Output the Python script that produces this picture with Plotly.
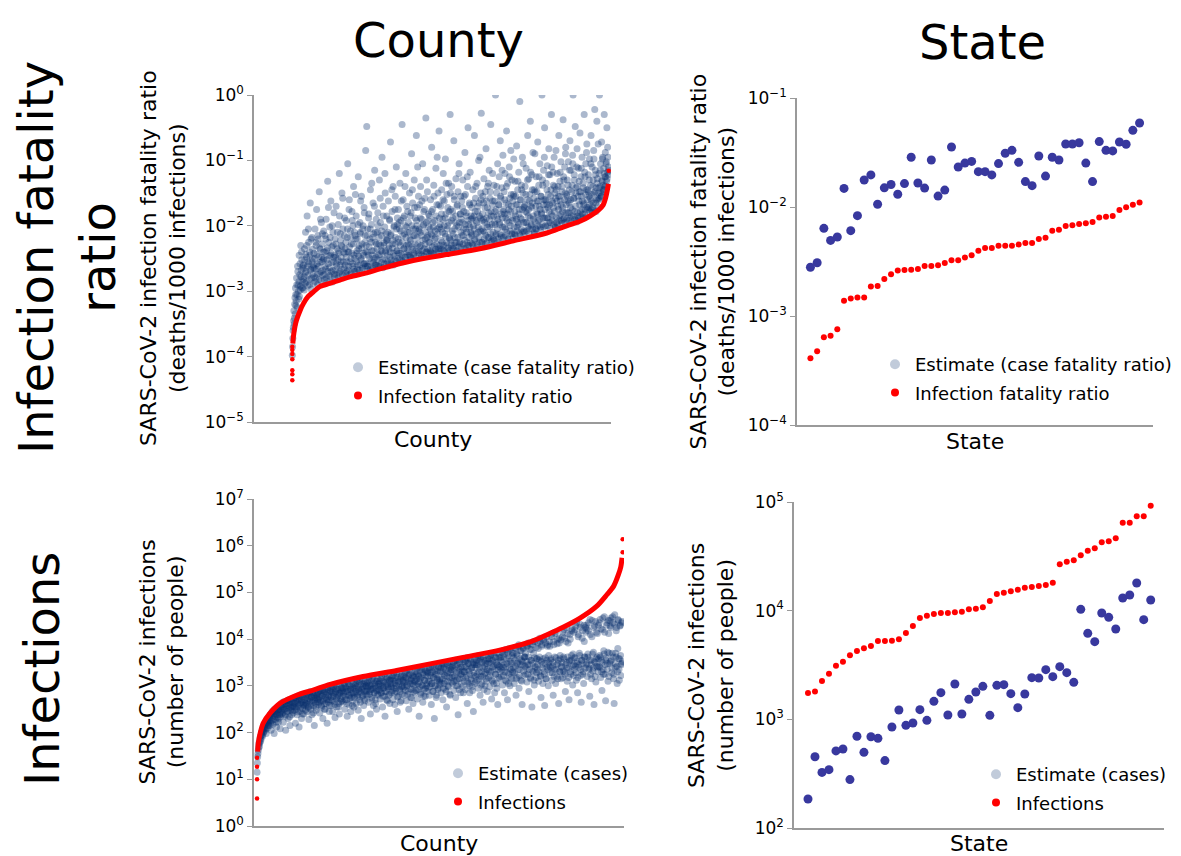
import numpy as np
import plotly.graph_objects as go

FONT = "DejaVu Sans"

# ---------------- State data (50 states, sorted) ----------------
state_ifr = [4.09e-4, 4.74e-4, 6.37e-4, 6.6e-4, 7.55e-4, 1.38e-3, 1.45e-3, 1.48e-3, 1.48e-3, 1.86e-3,
             1.88e-3, 2.18e-3, 2.41e-3, 2.62e-3, 2.64e-3, 2.66e-3, 2.70e-3, 2.88e-3, 2.88e-3, 2.92e-3,
             3.06e-3, 3.24e-3, 3.24e-3, 3.45e-3, 3.60e-3, 3.97e-3, 4.21e-3, 4.21e-3, 4.42e-3, 4.42e-3,
             4.42e-3, 4.54e-3, 4.67e-3, 4.67e-3, 5.08e-3, 5.23e-3, 6.07e-3, 6.20e-3, 6.70e-3, 6.79e-3,
             6.98e-3, 7.08e-3, 7.28e-3, 8.03e-3, 8.14e-3, 8.26e-3, 9.37e-3, 9.93e-3, 1.05e-2, 1.10e-2]
state_cfr = [2.80e-3, 3.08e-3, 6.37e-3, 4.94e-3, 5.31e-3, 1.48e-2, 6.07e-3, 8.33e-3, 1.77e-2, 1.97e-2,
             1.06e-2, 1.50e-2, 1.61e-2, 1.31e-2, 1.64e-2, 2.86e-2, 1.66e-2, 1.49e-2, 2.70e-2, 1.26e-2,
             1.43e-2, 3.55e-2, 2.33e-2, 2.53e-2, 2.62e-2, 2.11e-2, 2.11e-2, 1.97e-2, 2.50e-2, 3.11e-2,
             3.31e-2, 2.57e-2, 1.71e-2, 1.57e-2, 2.94e-2, 1.92e-2, 2.86e-2, 2.70e-2, 3.78e-2, 3.78e-2,
             3.89e-2, 2.53e-2, 1.71e-2, 3.98e-2, 3.31e-2, 3.27e-2, 3.95e-2, 3.76e-2, 5.05e-2, 5.90e-2]
state_infections = [1746, 1799, 2254, 2630, 3119, 3394, 3881, 4256, 4498, 4732,
                    5259, 5259, 5294, 5448, 6226, 7226, 8562, 8990, 9311, 9520,
                    9520, 9660, 9795, 10280, 10430, 10740, 12280, 14230, 14650, 15070,
                    15610, 16290, 16520, 16870, 17220, 18110, 26690, 28250, 29040, 32290,
                    35650, 37480, 42560, 43450, 46310, 64540, 64540, 73830, 73830, 92520]
state_cases = [185, 453, 325, 344, 512, 533, 279, 698, 497, 692,
               668, 417, 850, 1219, 881, 925, 1227, 979, 1465, 1760,
               1096, 2113, 1120, 1527, 1785, 2012, 1089, 2055, 2084, 1723,
               1280, 1711, 2417, 2400, 2864, 2470, 3053, 2687, 2190, 10280,
               6184, 5186, 9520, 8686, 6780, 13090, 13940, 17970, 8265, 12530]

# ---------------- County data: sample of counties ordered by IFR / infection rank (log10 values) ----------------
# two interleaved halves of the sample (even and odd ranks)
county_cfr_log10_even = [
    -3.98, -3.72, -3.55, -3.30, -3.41, -3.10, -2.95, -3.22, -2.80, -3.05, -2.62, -2.90, -3.12, -2.45, -2.75, -2.98, -2.30, -2.68, -2.52, -2.85,
    -2.95, -2.60, -2.78, -2.35, -2.88, -2.10, -2.70, -2.48, -1.85, -2.92, -2.55, -2.25, -2.82, -2.40, -1.65, -2.66, -2.97, -2.18, -2.50, -2.74,
    -2.88, -2.42, -2.65, -2.05, -2.80, -2.30, -1.75, -2.58, -2.90, -2.20, -2.47, -1.48, -2.72, -2.36, -2.84, -1.95, -2.55, -2.12, -2.68, -2.40,
    -2.50, -2.82, -2.15, -2.66, -1.90, -2.38, -2.85, -1.32, -2.58, -2.25, -2.76, -2.02, -2.45, -1.62, -2.70, -2.32, -2.86, -2.10, -2.55, -1.80,
    -2.78, -2.20, -2.48, -1.70, -2.62, -2.35, -2.80, -1.98, -2.42, -1.20, -2.70, -2.12, -2.55, -2.30, -1.50, -2.75, -2.05, -2.40, -2.65, -1.88,
    -2.35, -2.72, -1.92, -2.55, -2.18, -1.05, -2.68, -2.40, -1.60, -2.75, -2.08, -2.50, -2.28, -1.78, -2.62, -2.00, -1.40, -2.45, -2.70, -2.15,
    -2.70, -1.85, -2.42, -2.20, -2.60, -1.25, -2.35, -2.68, -1.95, -2.10, -2.52, -1.55, -2.28, -2.65, -2.00, -2.45, -1.72, -2.58, -2.15, -0.85,
    -2.30, -0.48, -2.62, -2.05, -2.45, -1.82, -2.68, -2.20, -1.45, -2.55, -1.98, -2.38, -2.65, -1.65, -2.12, -2.50, -1.15, -2.25, -2.60, -1.90,
    -2.60, -2.10, -1.80, -2.45, -2.28, -1.30, -2.62, -1.95, -2.38, -2.15, -0.95, -2.52, -1.70, -2.30, -2.58, -2.02, -1.50, -2.40, -2.22, -1.85,
    -2.20, -2.55, -1.62, -2.35, -1.90, -2.48, -0.72, -2.12, -2.58, -1.78, -2.28, -1.40, -2.42, -2.00, -2.52, -1.55, -2.18, -1.10, -2.38, -1.88,
    -2.50, -1.75, -2.25, -2.05, -1.35, -2.42, -1.92, -2.52, -0.45, -2.15, -1.60, -2.35, -1.85, -2.48, -2.00, -1.20, -2.30, -1.70, -2.10, -2.45,
    -1.95, -2.40, -1.50, -2.20, -2.48, -1.80, -0.90, -2.32, -1.65, -2.05, -2.45, -1.30, -2.15, -1.88, -2.38, -0.62, -2.00, -1.72, -2.28, -1.55,
    -2.42, -1.68, -2.10, -1.40, -2.30, -1.90, -2.45, -1.05, -2.00, -1.78, -2.35, -1.58, -2.20, -0.35, -1.95, -2.40, -1.48, -2.15, -1.82, -2.25,
    -1.85, -2.38, -1.60, -2.12, -0.80, -2.42, -1.75, -2.02, -1.38, -2.30, -1.92, -2.18, -1.12, -2.40, -1.68, -2.05, -1.50, -2.35, -0.55, -1.88,
    -2.35, -1.70, -2.05, -1.45, -2.25, -1.90, -1.20, -2.38, -1.62, -2.12, -0.98, -1.82, -2.30, -1.52, -2.00, -2.40, -1.35, -1.78, -2.20, -0.30,
    -1.75, -2.30, -1.40, -2.08, -1.88, -2.35, -0.70, -1.60, -2.18, -1.95, -1.28, -2.25, -1.70, -2.38, -1.48, -2.02, -1.05, -2.28, -1.82, -1.55,
    -2.32, -1.62, -1.95, -1.30, -2.15, -1.78, -2.35, -0.88, -1.52, -2.05, -1.85, -2.25, -1.40, -0.50, -1.98, -2.30, -1.68, -1.18, -2.10, -1.90,
    -1.72, -2.28, -1.45, -2.00, -1.85, -0.62, -2.20, -1.58, -1.92, -2.32, -1.35, -1.78, -2.10, -1.00, -1.65, -2.25, -1.88, -1.50, -0.28, -2.05,
    -2.25, -1.55, -1.90, -1.28, -2.10, -1.72, -2.28, -0.82, -1.62, -1.98, -1.40, -2.18, -1.80, -1.15, -2.02, -1.48, -0.45, -1.85, -2.22, -1.68,
    -1.62, -2.20, -1.38, -1.95, -1.78, 0.00, -2.12, -1.50, -1.85, -1.05, -2.25, -1.68, -1.25, -1.98, -0.70, -1.58, -2.15, -1.42, -1.88, -0.92,
    -2.18, -1.48, -1.82, -1.20, -2.05, -1.65, -0.55, -1.92, -1.35, -2.20, -1.75, -1.10, -1.58, -2.00, -0.85, -1.70, -1.30, -2.12, -1.88, -1.52,
    -1.55, -2.12, -1.32, -1.85, -1.68, -0.78, -2.02, -1.45, -1.95, -1.18, -1.75, -0.10, -2.15, -1.60, -1.38, -1.90, -0.95, -1.50, -2.08, -1.72,
    -2.10, -1.40, -1.78, -1.12, -1.95, -1.60, -0.62, -1.85, -1.28, -2.05, -1.52, -0.40, -1.70, -1.98, -1.22, -1.65, -0.88, -1.90, -1.45, -2.12,
    -1.48, -2.05, -1.25, -1.80, -1.62, -0.72, -1.92, -1.38, -1.70, -1.05, -2.02, -1.55, -1.82, 0.00, -1.30, -1.88, -1.15, -1.60, -0.50, -1.75,
    -2.00, -1.35, -1.68, -1.08, -1.88, -1.52, -0.82, -1.78, -1.22, -1.95, -1.45, -0.30, -1.62, -1.85, -1.18, -1.72, -0.95, -1.40, -2.02, -1.58,
    -1.45, -1.95, -1.20, -1.70, -1.55, -0.62, -1.85, -1.32, -1.62, -1.02, -1.92, -1.40, -1.78, -0.38, -1.25, -1.88, -1.10, -1.50, -0.80, -1.68,
    -1.90, -1.30, -1.62, -1.02, -1.80, -1.45, -0.70, -1.72, -1.15, -1.85, -1.38, -0.92, 0.00, -1.58, -1.22, -1.78, -0.48, -1.50, -1.92, -1.10,
    -1.40, -1.85, -1.12, -1.62, -1.48, -0.58, -1.78, -1.25, -1.55, -0.95, -1.82, -1.35, -1.68, -0.30, -1.18, -1.75, -1.05, -1.45, -0.75, -1.60,
    -1.75, -1.22, -1.55, -0.98, -1.68, -1.38, -0.62, -1.62, -1.10, -1.72, -1.30, -0.85, -1.50, -0.22, -1.15, -1.65, -1.42, -0.40, -1.28, -1.58,
    -1.50, -1.20, 0.00, -1.40, -1.05, -1.55, -0.72, -1.32, -0.95, -1.45, -1.12, -0.30, -1.25, -0.88, -1.38, -1.02, -0.50, -1.18, -0.95, -1.10,
]
county_cfr_log10_odd = [
    -3.85, -3.60, -3.45, -3.50, -3.20, -3.35, -3.05, -3.15, -2.90, -3.25, -2.70, -3.00, -2.85, -3.08, -2.58, -2.92, -2.78, -2.40, -2.95, -2.62,
    -2.82, -2.65, -2.98, -2.52, -2.72, -2.44, -2.86, -2.30, -2.62, -2.76, -2.05, -2.58, -2.90, -2.45, -2.68, -2.20, -2.80, -2.55, -2.36, -2.64,
    -2.60, -2.78, -2.50, -2.85, -2.25, -2.66, -2.44, -2.74, -2.15, -2.62, -2.82, -2.34, -2.56, -1.90, -2.70, -2.48, -2.28, -2.76, -2.52, -2.08,
    -2.75, -2.40, -2.62, -2.20, -2.80, -2.52, -2.34, -2.70, -1.72, -2.46, -2.64, -2.18, -2.78, -2.42, -2.56, -2.00, -2.68, -2.30, -2.48, -2.74,
    -2.45, -2.68, -2.28, -2.58, -2.75, -2.10, -2.52, -2.38, -2.72, -1.85, -2.60, -2.22, -2.48, -2.66, -2.32, -1.58, -2.55, -2.76, -2.15, -2.42,
    -2.60, -2.25, -2.48, -2.70, -2.05, -2.40, -2.62, -1.75, -2.32, -2.55, -2.18, -2.72, -2.42, -1.92, -2.58, -2.28, -2.66, -2.10, -2.50, -1.52,
    -2.20, -2.55, -2.38, -2.66, -1.98, -2.46, -2.30, -2.60, -2.12, -1.62, -2.50, -2.34, -2.68, -2.05, -2.42, -2.58, -1.80, -2.25, -2.62, -2.40,
    -2.58, -2.15, -2.40, -2.62, -1.88, -2.32, -2.50, -2.05, -2.66, -2.25, -1.35, -2.45, -2.18, -2.56, -2.38, -1.70, -2.60, -2.10, -2.48, -2.28,
    -2.35, -2.52, -2.00, -2.62, -2.18, -2.44, -1.58, -2.30, -2.56, -2.08, -2.40, -2.64, -1.85, -2.26, -2.50, -1.20, -2.38, -2.12, -2.58, -2.22,
    -2.45, -2.10, -2.58, -2.30, -1.92, -2.40, -2.15, -2.52, -1.45, -2.34, -2.22, -2.60, -2.02, -2.46, -1.75, -2.28, -2.55, -2.05, -2.38, -1.98,
    -2.20, -2.42, -1.95, -2.52, -2.30, -2.08, -1.62, -2.45, -2.25, -2.55, -1.88, -2.35, -2.12, -1.40, -2.48, -2.18, -2.02, -2.40, -1.78, -2.28,
    -2.30, -2.10, -2.45, -1.85, -2.22, -2.50, -2.00, -1.45, -2.36, -2.15, -2.42, -1.72, -2.28, -2.05, -2.48, -1.92, -2.18, -1.10, -2.38, -2.08,
    -2.05, -2.32, -1.88, -2.44, -2.15, -1.62, -2.38, -2.22, -1.98, -2.46, -1.75, -2.28, -2.10, -2.40, -1.30, -2.18, -2.35, -1.92, -2.02, -2.42,
    -2.25, -2.05, -2.40, -1.78, -2.15, -2.32, -1.95, -2.42, -1.55, -2.20, -2.08, -2.36, -1.85, -2.28, -0.95, -2.12, -2.38, -1.68, -2.02, -2.30,
    -1.98, -2.22, -1.82, -2.36, -2.10, -1.60, -2.30, -2.00, -2.40, -1.88, -2.16, -1.35, -2.26, -2.05, -1.72, -2.34, -1.95, -2.18, -2.38, -1.50,
    -2.22, -1.92, -2.34, -1.78, -2.12, -2.30, -1.55, -2.05, -2.26, -1.85, -2.38, -2.00, -1.68, -2.18, -2.32, -1.20, -1.95, -2.25, -1.82, -2.10,
    -1.90, -2.15, -1.72, -2.28, -2.05, -1.55, -2.22, -1.98, -2.34, -1.80, -2.10, -1.25, -2.30, -1.92, -2.18, -1.65, -2.02, -2.26, -1.85, -2.12,
    -2.15, -1.88, -2.30, -1.65, -2.05, -2.22, -1.78, -1.40, -2.12, -1.95, -2.28, -1.70, -2.02, -2.18, -1.85, -0.95, -2.08, -1.60, -2.25, -1.92,
    -1.82, -2.08, -1.65, -2.20, -1.95, -1.48, -2.15, -1.88, -2.26, -1.72, -2.02, -1.35, -2.18, -1.90, -1.58, -2.12, -1.78, -2.24, -1.98, -1.20,
    -2.10, -1.85, -2.22, -1.62, -1.98, -2.15, -1.75, -1.40, -2.05, -1.90, -2.20, -1.68, -1.95, -2.12, -1.55, -1.82, -2.18, -1.15, -2.02, -1.78,
    -1.75, -2.02, -1.60, -2.15, -1.88, -1.40, -2.10, -1.82, -2.20, -1.68, -1.95, -1.25, -2.08, -1.78, -1.52, -2.12, -1.92, -1.62, -2.18, -0.98,
    -2.02, -1.78, -2.14, -1.55, -1.90, -2.08, -1.68, -1.32, -1.98, -1.82, -2.12, -1.60, -1.88, -2.05, -1.45, -1.75, -2.10, -1.05, -1.95, -1.70,
    -1.68, -1.95, -1.52, -2.08, -1.80, -1.30, -2.02, -1.75, -2.12, -1.62, -1.88, -1.18, -2.00, -1.72, -1.45, -2.05, -1.85, -1.58, -2.10, -0.90,
    -1.95, -1.70, -2.05, -1.48, -1.82, -2.00, -1.62, -1.25, -1.90, -1.75, -2.06, -1.55, -1.80, -1.98, -1.38, -1.68, -2.02, -0.95, -1.88, -1.60,
    -1.62, -1.88, -1.45, -2.00, -1.72, -1.22, -1.95, -1.68, -2.04, -1.55, -1.82, -1.10, -1.92, -1.65, -1.38, -1.98, -1.78, -1.50, -2.02, -0.85,
    -1.88, -1.62, -1.98, -1.40, -1.75, -1.92, -1.55, -1.18, -1.82, -1.68, -1.96, -1.48, -1.72, -1.90, -1.30, -1.60, -1.95, -0.90, -1.80, -1.52,
    -1.55, -1.80, -1.38, -1.92, -1.65, -1.15, -1.88, -1.60, -1.95, -1.48, -1.75, -1.05, -1.85, -1.58, -1.30, -1.90, -1.70, -1.42, -1.94, -0.82,
    -1.80, -1.55, -1.88, -1.32, -1.68, -1.85, -1.48, -1.12, -1.75, -1.62, -1.88, -1.42, -1.65, -1.82, -1.25, -1.52, -1.86, -0.88, -1.72, -1.45,
    -1.48, -1.72, -1.30, -1.78, -1.58, -1.05, -1.75, -1.52, -1.80, -1.40, -1.65, -0.98, -1.76, -1.48, -1.22, -1.78, -1.60, -1.35, -1.70, -0.75,
    -1.60, -1.42, -1.58, -1.15, -1.50, -1.55, -1.30, -0.98, -1.48, -1.38, -1.45, -1.20, -1.40, -1.25, -1.05, -1.32, -1.28, -0.80, -1.22, -1.15,
]
county_ifr_curve_idx = [2, 4, 10, 16, 30, 42, 60, 80, 104, 142, 180, 218, 282, 332, 458, 584, 710, 838, 964, 1026,
                        1090, 1128, 1160, 1178, 1188, 1194, 1198]
county_ifr_curve_log10 = [-3.80, -3.70, -3.54, -3.44, -3.29, -3.19, -3.08, -3.01, -2.93, -2.88, -2.83, -2.78,
                          -2.72, -2.66, -2.53, -2.44, -2.35, -2.23, -2.11, -2.02, -1.93, -1.85, -1.76, -1.68,
                          -1.56, -1.45, -1.36]
county_ifr_outlier_idx = [0, 0, 0, 0, 0, 0, 0, 1199]
county_ifr_outlier_log10 = [-4.36, -4.27, -4.21, -4.04, -3.96, -3.90, -3.85, -1.16]

county_cases_log10_even = [
    1.15, 1.48, 1.62, 1.75, 1.70, 1.88, 1.82, 1.95, 2.02, 1.92, 2.08, 2.00, 2.12, 2.05, 2.18, 1.98, 2.22, 2.10, 2.25, 2.15,
    2.30, 2.15, 2.38, 2.05, 2.25, 2.42, 2.18, 2.35, 1.98, 2.45, 2.28, 2.40, 2.12, 2.48, 2.32, 2.22, 2.50, 2.38, 2.08, 2.45,
    2.55, 2.40, 2.65, 2.22, 2.50, 2.60, 2.35, 2.05, 2.58, 2.45, 2.68, 2.30, 2.52, 2.62, 2.15, 2.48, 2.66, 2.38, 2.56, 2.42,
    2.70, 2.48, 2.62, 2.20, 2.75, 2.55, 2.38, 2.68, 2.58, 2.12, 2.72, 2.45, 2.64, 2.30, 2.78, 2.52, 2.60, 2.40, 2.70, 2.58,
    2.62, 2.80, 2.45, 2.72, 2.55, 2.28, 2.85, 2.66, 2.50, 2.76, 2.38, 2.68, 2.82, 2.58, 2.15, 2.74, 2.62, 2.48, 2.80, 2.70,
    2.85, 2.60, 2.75, 2.42, 2.90, 2.68, 2.55, 2.80, 2.30, 2.72, 2.88, 2.62, 2.50, 2.82, 2.70, 2.20, 2.92, 2.65, 2.78, 2.58,
    2.70, 2.95, 2.58, 2.85, 2.45, 2.78, 2.98, 2.66, 2.32, 2.88, 2.75, 2.55, 2.92, 2.80, 2.62, 2.40, 2.85, 2.72, 2.96, 2.68,
    2.90, 2.65, 2.82, 3.02, 2.50, 2.78, 2.95, 2.70, 2.35, 2.88, 3.05, 2.60, 2.80, 2.92, 2.45, 2.75, 2.98, 2.68, 2.85, 2.55,
    2.75, 3.00, 2.88, 2.62, 3.08, 2.80, 2.48, 2.95, 2.70, 3.10, 2.85, 2.30, 2.92, 2.78, 3.04, 2.58, 2.88, 2.68, 3.00, 2.82,
    3.05, 2.80, 2.95, 2.65, 3.12, 2.88, 2.40, 3.00, 2.75, 2.92, 3.15, 2.58, 2.85, 3.05, 2.70, 2.95, 2.50, 3.10, 2.82, 2.98,
    2.90, 3.10, 2.72, 3.00, 2.85, 3.18, 2.55, 2.95, 3.08, 2.78, 2.35, 3.02, 2.88, 3.15, 2.68, 2.98, 2.80, 3.12, 2.62, 3.05,
    3.15, 2.85, 3.05, 2.70, 3.22, 2.95, 2.60, 3.10, 2.88, 3.00, 2.45, 3.18, 2.78, 3.08, 2.92, 2.65, 3.20, 2.98, 2.82, 3.12,
    2.95, 3.20, 2.80, 3.08, 3.28, 2.68, 3.00, 3.15, 2.88, 2.50, 3.25, 3.05, 2.75, 3.12, 2.92, 3.22, 2.62, 3.02, 3.18, 2.85,
    3.10, 2.90, 3.30, 2.72, 3.05, 3.22, 2.35, 2.98, 3.15, 2.82, 3.35, 3.02, 2.65, 3.25, 2.92, 3.12, 2.78, 3.32, 3.00, 2.88,
    3.20, 2.95, 3.38, 2.80, 3.10, 3.28, 2.60, 3.05, 3.40, 2.88, 3.18, 2.30, 3.32, 3.00, 2.75, 3.25, 3.12, 2.92, 3.42, 3.08,
    3.02, 3.30, 2.85, 3.45, 3.15, 2.70, 3.38, 3.05, 3.22, 2.92, 3.48, 2.55, 3.28, 3.10, 2.98, 3.42, 3.18, 2.80, 3.35, 3.08,
    3.35, 3.05, 3.50, 2.90, 3.20, 3.42, 2.75, 3.12, 3.55, 3.00, 2.38, 3.30, 3.15, 3.48, 2.85, 3.25, 3.40, 2.98, 3.18, 3.52,
    3.10, 3.40, 2.92, 3.55, 3.22, 2.62, 3.48, 3.05, 3.32, 2.85, 3.58, 3.15, 3.38, 2.98, 3.50, 2.45, 3.28, 3.45, 3.08, 3.20,
    3.45, 3.12, 3.60, 2.95, 3.30, 3.52, 2.80, 3.20, 3.62, 3.05, 3.40, 2.65, 3.55, 3.25, 3.00, 3.48, 3.15, 3.35, 2.88, 3.58,
    3.18, 3.50, 2.98, 3.65, 3.30, 2.72, 3.55, 3.10, 3.42, 3.70, 2.85, 3.25, 3.60, 3.05, 3.45, 2.60, 3.35, 3.62, 3.15, 3.40,
    3.55, 3.20, 3.72, 3.02, 3.40, 3.62, 2.85, 3.30, 3.78, 3.10, 3.48, 2.70, 3.65, 3.25, 3.80, 3.00, 3.52, 3.35, 3.15, 3.70,
    3.28, 3.60, 3.05, 3.82, 3.42, 2.80, 3.68, 3.18, 3.50, 3.85, 2.95, 3.35, 3.75, 3.12, 3.55, 2.60, 3.45, 3.80, 3.22, 3.62,
    3.62, 3.25, 3.85, 3.08, 3.45, 3.92, 2.88, 3.35, 3.78, 3.15, 3.55, 2.55, 3.88, 3.30, 3.70, 3.02, 3.95, 3.40, 3.18, 3.58,
    3.35, 3.92, 3.10, 3.55, 4.02, 3.22, 2.75, 3.85, 3.45, 3.05, 3.98, 3.30, 2.58, 3.60, 3.15, 4.05, 3.40, 3.88, 3.00, 3.50,
    3.95, 3.28, 3.55, 4.10, 3.12, 3.42, 2.80, 3.88, 3.35, 4.15, 3.05, 3.60, 3.20, 4.00, 3.48, 2.62, 3.92, 3.30, 3.58, 3.15,
    3.40, 4.05, 3.18, 3.62, 4.20, 3.30, 2.88, 3.95, 3.50, 3.10, 4.12, 3.38, 2.70, 3.55, 4.00, 3.25, 3.65, 4.22, 3.02, 3.45,
    4.15, 3.35, 3.60, 4.28, 3.12, 3.48, 2.85, 4.05, 3.40, 3.70, 4.32, 3.22, 2.65, 3.55, 4.18, 3.30, 3.05, 3.95, 3.62, 4.25,
    3.45, 4.22, 3.20, 3.68, 4.35, 3.38, 2.78, 4.10, 3.55, 3.15, 4.40, 3.32, 3.72, 2.60, 4.28, 3.50, 3.08, 4.15, 3.62, 3.40,
    4.30, 3.42, 3.65, 4.42, 3.18, 3.55, 2.90, 4.20, 3.35, 3.75, 4.48, 3.25, 2.68, 3.60, 4.35, 3.48, 3.10, 4.12, 3.70, 4.40,
    3.52, 4.45, 3.28, 3.70, 4.35, 3.15, 2.62, 4.52, 3.40, 3.62, 4.25, 3.05, 3.80, 4.40, 3.35, 3.58, 4.30, 3.22, 3.48, 4.38,
]
county_cases_log10_odd = [
    1.35, 1.55, 1.68, 1.80, 1.78, 1.92, 1.86, 2.00, 1.95, 2.06, 2.02, 2.15, 2.10, 2.20, 2.08, 2.24, 2.16, 2.28, 2.20, 2.32,
    2.25, 2.38, 2.20, 2.42, 2.32, 2.46, 2.28, 2.40, 2.50, 2.35, 2.44, 2.22, 2.52, 2.38, 2.48, 2.30, 2.55, 2.42, 2.34, 2.56,
    2.48, 2.60, 2.42, 2.55, 2.66, 2.50, 2.38, 2.62, 2.52, 2.68, 2.45, 2.58, 2.70, 2.34, 2.60, 2.54, 2.72, 2.46, 2.64, 2.56,
    2.62, 2.75, 2.55, 2.68, 2.50, 2.78, 2.64, 2.44, 2.72, 2.60, 2.80, 2.52, 2.70, 2.66, 2.40, 2.76, 2.58, 2.82, 2.65, 2.48,
    2.75, 2.60, 2.84, 2.68, 2.52, 2.80, 2.72, 2.88, 2.58, 2.76, 2.64, 2.85, 2.42, 2.78, 2.70, 2.86, 2.55, 2.74, 2.82, 2.66,
    2.72, 2.88, 2.65, 2.82, 2.94, 2.58, 2.78, 2.90, 2.68, 2.84, 2.50, 2.92, 2.76, 2.62, 2.86, 2.96, 2.70, 2.80, 2.45, 2.90,
    2.88, 2.76, 2.98, 2.68, 2.90, 2.82, 3.02, 2.60, 2.86, 2.94, 2.72, 3.00, 2.78, 2.55, 2.92, 2.84, 3.04, 2.66, 2.88, 2.96,
    2.78, 2.95, 2.86, 3.05, 2.70, 2.98, 2.88, 2.62, 3.08, 2.92, 2.80, 3.00, 2.74, 2.94, 3.10, 2.84, 2.58, 2.96, 3.04, 2.82,
    2.95, 3.05, 2.84, 2.98, 3.12, 2.76, 2.92, 3.08, 2.88, 2.65, 3.02, 2.94, 3.15, 2.80, 2.98, 3.06, 2.72, 3.10, 2.90, 3.00,
    2.88, 3.08, 2.98, 3.18, 2.82, 3.02, 2.92, 3.12, 2.72, 3.05, 2.95, 3.20, 2.85, 3.00, 2.62, 3.10, 2.90, 3.15, 2.80, 3.04,
    3.05, 2.92, 3.15, 2.85, 3.22, 3.00, 2.78, 3.10, 2.96, 3.25, 2.88, 3.08, 2.70, 3.18, 3.02, 2.94, 3.20, 2.82, 3.12, 2.98,
    2.98, 3.20, 2.90, 3.12, 3.28, 2.84, 3.05, 3.18, 2.95, 3.25, 2.76, 3.10, 3.02, 3.30, 2.88, 3.15, 2.68, 3.22, 3.00, 3.08,
    3.12, 2.98, 3.25, 2.90, 3.18, 3.32, 3.02, 2.82, 3.22, 3.08, 3.35, 2.94, 3.15, 2.75, 3.28, 3.05, 3.20, 2.88, 3.10, 3.30,
    3.02, 3.25, 3.15, 3.38, 2.92, 3.20, 3.08, 3.32, 2.85, 3.18, 3.40, 3.00, 3.28, 2.78, 3.12, 3.35, 2.95, 3.22, 3.05, 3.30,
    3.28, 3.10, 3.35, 2.98, 3.22, 3.42, 3.05, 3.30, 2.88, 3.18, 3.45, 3.00, 3.25, 3.38, 2.80, 3.15, 3.32, 2.95, 3.40, 3.12,
    3.15, 3.38, 3.05, 3.30, 3.48, 2.95, 3.25, 3.42, 3.10, 3.35, 2.88, 3.20, 3.45, 3.00, 3.32, 3.50, 2.82, 3.28, 3.40, 3.18,
    3.42, 3.22, 3.50, 3.10, 3.35, 3.55, 3.00, 3.28, 3.45, 3.15, 3.38, 2.92, 3.52, 3.25, 3.40, 3.05, 3.32, 3.56, 2.85, 3.30,
    3.30, 3.52, 3.18, 3.42, 3.60, 3.08, 3.35, 3.48, 3.00, 3.25, 3.55, 3.12, 3.40, 2.90, 3.45, 3.22, 3.58, 3.05, 3.38, 3.50,
    3.55, 3.25, 3.45, 3.65, 3.15, 3.38, 3.58, 3.02, 3.30, 3.50, 3.20, 3.62, 2.92, 3.42, 3.28, 3.55, 3.10, 3.48, 3.35, 3.64,
    3.32, 3.58, 3.22, 3.48, 3.68, 3.12, 3.40, 3.55, 3.05, 3.35, 3.62, 3.25, 3.50, 2.95, 3.45, 3.70, 3.18, 3.42, 3.60, 3.30,
    3.62, 3.35, 3.50, 3.75, 3.22, 3.45, 3.68, 3.12, 3.40, 3.58, 3.28, 3.72, 3.05, 3.52, 3.38, 3.78, 3.18, 3.48, 3.65, 3.30,
    3.40, 3.70, 3.28, 3.55, 3.80, 3.15, 3.48, 3.65, 3.35, 3.88, 3.22, 3.58, 3.45, 3.75, 3.10, 3.52, 3.82, 3.32, 3.62, 3.42,
    3.70, 3.38, 3.52, 3.85, 3.25, 3.62, 3.45, 3.90, 3.18, 3.55, 3.78, 3.32, 3.48, 3.95, 3.12, 3.60, 3.42, 3.82, 3.28, 3.58,
    3.45, 3.80, 3.30, 3.62, 3.95, 3.20, 3.52, 3.88, 3.38, 3.58, 4.00, 3.25, 3.48, 3.92, 3.15, 3.55, 3.85, 3.35, 3.65, 3.42,
    3.85, 3.40, 3.58, 4.05, 3.28, 3.50, 3.95, 3.20, 3.62, 4.12, 3.35, 3.45, 3.90, 3.15, 3.55, 4.02, 3.30, 3.65, 3.98, 3.42,
    3.50, 4.15, 3.32, 3.58, 4.02, 3.25, 3.45, 4.25, 3.38, 3.62, 3.92, 3.18, 3.52, 4.10, 3.30, 3.55, 4.18, 3.42, 3.68, 3.22,
    3.60, 4.20, 3.42, 3.28, 4.35, 3.52, 3.18, 4.10, 3.45, 3.65, 4.25, 3.35, 3.55, 4.02, 3.25, 3.48, 4.30, 3.62, 3.38, 4.15,
    4.30, 3.48, 3.62, 4.18, 3.35, 3.55, 4.42, 3.25, 3.45, 4.05, 3.68, 3.38, 4.25, 3.52, 3.20, 4.38, 3.58, 3.42, 4.12, 3.30,
    3.58, 4.35, 3.40, 3.62, 4.22, 3.30, 3.50, 4.45, 3.25, 3.68, 4.15, 3.45, 3.55, 4.30, 3.35, 3.72, 4.40, 3.20, 3.48, 4.28,
    4.25, 3.55, 3.38, 4.48, 3.62, 3.25, 4.32, 3.48, 3.70, 4.18, 3.42, 3.30, 4.42, 3.58, 3.12, 4.28, 3.65, 3.45, 4.35, 3.52,
]
county_inf_curve_idx = [2, 4, 10, 20, 42, 76, 130, 184, 240, 348, 458, 568, 676, 786, 896, 950, 1006, 1060,
                        1114, 1148, 1170, 1186, 1194, 1198]
county_inf_curve_log10 = [1.59, 1.77, 1.98, 2.20, 2.41, 2.63, 2.80, 2.91, 3.03, 3.20, 3.33, 3.47, 3.61, 3.75,
                          3.94, 4.09, 4.26, 4.45, 4.70, 4.95, 5.13, 5.38, 5.55, 5.74]
county_inf_outlier_idx = [0, 0, 0, 0, 1200, 1200]
county_inf_outlier_log10 = [0.59, 1.00, 1.27, 1.46, 5.86, 6.14]

# ---------------- Tick labels ----------------
ticks_ifr_county = [1e-5, 1e-4, 1e-3, 1e-2, 1e-1, 1e0]
ticktext_ifr_county = ["10<sup>−5</sup>", "10<sup>−4</sup>", "10<sup>−3</sup>", "10<sup>−2</sup>", "10<sup>−1</sup>", "10<sup>0</sup>"]
ticks_ifr_state = [1e-4, 1e-3, 1e-2, 1e-1]
ticktext_ifr_state = ["10<sup>−4</sup>", "10<sup>−3</sup>", "10<sup>−2</sup>", "10<sup>−1</sup>"]
ticks_inf_county = [1e0, 1e1, 1e2, 1e3, 1e4, 1e5, 1e6, 1e7]
ticktext_inf_county = ["10<sup>0</sup>", "10<sup>1</sup>", "10<sup>2</sup>", "10<sup>3</sup>", "10<sup>4</sup>",
                       "10<sup>5</sup>", "10<sup>6</sup>", "10<sup>7</sup>"]
ticks_inf_state = [1e2, 1e3, 1e4, 1e5]
ticktext_inf_state = ["10<sup>2</sup>", "10<sup>3</sup>", "10<sup>4</sup>", "10<sup>5</sup>"]

# ---------------- Styles ----------------
BLUE_CLOUD = "rgba(8,48,107,0.34)"
BLUE_LEGEND = "rgba(8,48,107,0.25)"
STATE_BLUE = "rgb(56,56,158)"
RED = "rgb(255,0,0)"

fig = go.Figure()

def pow10(a):
    return np.power(10.0, np.asarray(a, dtype=float))

def interleave(even, odd):
    return np.ravel(np.column_stack([np.asarray(even, float), np.asarray(odd, float)]))

county_cfr_log10 = interleave(county_cfr_log10_even, county_cfr_log10_odd)
county_cases_log10 = interleave(county_cases_log10_even, county_cases_log10_odd)

# ---- Top-left: county IFR ----
fig.add_trace(go.Scatter(x=np.arange(len(county_cfr_log10)), y=pow10(county_cfr_log10), mode="markers",
                         marker=dict(size=7, color=BLUE_CLOUD, line=dict(width=0)),
                         showlegend=False, hoverinfo="skip", xaxis="x", yaxis="y"))
fig.add_trace(go.Scatter(x=county_ifr_curve_idx, y=pow10(county_ifr_curve_log10), mode="lines",
                         line=dict(color=RED, width=5, shape="spline", smoothing=0.8),
                         showlegend=False, hoverinfo="skip", xaxis="x", yaxis="y"))
fig.add_trace(go.Scatter(x=county_ifr_outlier_idx, y=pow10(county_ifr_outlier_log10), mode="markers",
                         marker=dict(size=4.5, color=RED), showlegend=False, hoverinfo="skip",
                         xaxis="x", yaxis="y"))

# ---- Top-right: state IFR ----
state_idx = np.arange(len(state_ifr))
fig.add_trace(go.Scatter(x=state_idx, y=state_cfr, mode="markers",
                         marker=dict(size=9, color=STATE_BLUE), showlegend=False, hoverinfo="skip",
                         xaxis="x2", yaxis="y2"))
fig.add_trace(go.Scatter(x=state_idx, y=state_ifr, mode="markers",
                         marker=dict(size=6, color=RED), showlegend=False, hoverinfo="skip",
                         xaxis="x2", yaxis="y2"))

# ---- Bottom-left: county infections ----
fig.add_trace(go.Scatter(x=np.arange(len(county_cases_log10)), y=pow10(county_cases_log10), mode="markers",
                         marker=dict(size=7, color=BLUE_CLOUD, line=dict(width=0)),
                         showlegend=False, hoverinfo="skip", xaxis="x3", yaxis="y3"))
fig.add_trace(go.Scatter(x=county_inf_curve_idx, y=pow10(county_inf_curve_log10), mode="lines",
                         line=dict(color=RED, width=5, shape="spline", smoothing=0.8),
                         showlegend=False, hoverinfo="skip", xaxis="x3", yaxis="y3"))
fig.add_trace(go.Scatter(x=county_inf_outlier_idx, y=pow10(county_inf_outlier_log10), mode="markers",
                         marker=dict(size=4.5, color=RED), showlegend=False, hoverinfo="skip",
                         xaxis="x3", yaxis="y3"))

# ---- Bottom-right: state infections ----
fig.add_trace(go.Scatter(x=state_idx, y=state_cases, mode="markers",
                         marker=dict(size=9, color=STATE_BLUE), showlegend=False, hoverinfo="skip",
                         xaxis="x4", yaxis="y4"))
fig.add_trace(go.Scatter(x=state_idx, y=state_infections, mode="markers",
                         marker=dict(size=6, color=RED), showlegend=False, hoverinfo="skip",
                         xaxis="x4", yaxis="y4"))

# ---- Legend entries ----
legend_specs = [
    ("legend", "x", "y", "Estimate (case fatality ratio)", "Infection fatality ratio"),
    ("legend2", "x2", "y2", "Estimate (case fatality ratio)", "Infection fatality ratio"),
    ("legend3", "x3", "y3", "Estimate (cases)", "Infections"),
    ("legend4", "x4", "y4", "Estimate (cases)", "Infections"),
]
for lg, xa, ya, name_blue, name_red in legend_specs:
    fig.add_trace(go.Scatter(x=[None], y=[None], mode="markers", name=name_blue,
                             marker=dict(size=10, color=BLUE_LEGEND), legend=lg, legendgroup=lg + "a",
                             xaxis=xa, yaxis=ya, hoverinfo="skip"))
    fig.add_trace(go.Scatter(x=[None], y=[None], mode="markers", name=name_red,
                             marker=dict(size=8, color=RED), legend=lg, legendgroup=lg + "b",
                             xaxis=xa, yaxis=ya, hoverinfo="skip"))

W, H = 1181, 856
OFF = 8  # page body margin
AX_COLOR = "#9a9a9a"

def px_x(p):
    return (p - OFF) / W

def px_y(p):
    return 1 - (p - OFF) / H

def xaxis_cfg(x0, x1, rng):
    return dict(domain=[px_x(x0), px_x(x1)], range=rng, showline=True, linecolor=AX_COLOR, linewidth=1.5,
                showticklabels=False, ticks="", showgrid=False, zeroline=False, fixedrange=True)

def yaxis_cfg(y_top, y_bot, rng, tv, tt, anchor):
    return dict(domain=[px_y(y_bot), px_y(y_top)], type="log", range=rng, showline=True, linecolor=AX_COLOR,
                linewidth=1.5, ticks="outside", ticklen=5, tickwidth=1.2, tickcolor=AX_COLOR,
                tickvals=tv, ticktext=tt, tickfont=dict(family=FONT, size=17, color="black"),
                showgrid=False, zeroline=False, anchor=anchor, fixedrange=True)

legend_base = dict(xanchor="left", yanchor="top", bgcolor="rgba(0,0,0,0)", borderwidth=0,
                   font=dict(family=FONT, size=18, color="black"), tracegroupgap=2, itemsizing="trace")

def legend_at(mx, my):
    d = dict(legend_base)
    d.update(x=px_x(mx - 20), y=px_y(my - 18))
    return d

def ann(text, x, y, size, angle=0):
    return dict(text=text, x=px_x(x), y=px_y(y), xref="paper", yref="paper", showarrow=False,
                xanchor="center", yanchor="middle", textangle=angle, align="center",
                font=dict(family=FONT, size=size, color="black"))

annotations = [
    ann("County", 438.5, 40, 48),
    ann("State", 982.5, 42, 48),
    ann("Infection fatality<br>ratio", 67, 258, 48, -90),
    ann("Infections", 42, 669, 48, -90),
    ann("SARS-CoV-2 infection fatality ratio<br>(deaths/1000 infections)", 162.5, 258.5, 22, -90),
    ann("SARS-CoV-2 infection fatality ratio<br>(deaths/1000 infections)", 712, 261.5, 22, -90),
    ann("SARS-CoV-2 infections<br>(number of people)", 161, 662.5, 22, -90),
    ann("SARS-CoV-2 infections<br>(number of people)", 711, 665, 22, -90),
    ann("County", 432.5, 440, 22),
    ann("State", 975, 441, 22),
    ann("County", 439, 843, 22),
    ann("State", 979, 843, 22),
]

fig.update_layout(
    width=W, height=H, margin=dict(l=0, r=0, t=0, b=0, autoexpand=False),
    paper_bgcolor="white", plot_bgcolor="white",
    font=dict(family=FONT, size=18, color="black"),
    xaxis=dict(xaxis_cfg(254, 611, [-145.2, 1207.6]), anchor="y"),
    yaxis=yaxis_cfg(95, 422, [-5, 0], ticks_ifr_county, ticktext_ifr_county, "x"),
    xaxis2=dict(xaxis_cfg(797, 1153, [-2, 51]), anchor="y2"),
    yaxis2=yaxis_cfg(98, 425, [-4, -1], ticks_ifr_state, ticktext_ifr_state, "x2"),
    xaxis3=dict(xaxis_cfg(254, 624, [-10, 1204.4]), anchor="y3"),
    yaxis3=yaxis_cfg(499, 826, [0, 7], ticks_inf_county, ticktext_inf_county, "x3"),
    xaxis4=dict(xaxis_cfg(794, 1164, [-2, 50.9]), anchor="y4"),
    yaxis4=yaxis_cfg(502, 828, [2, 5], ticks_inf_state, ticktext_inf_state, "x4"),
    legend=legend_at(358, 367),
    legend2=legend_at(895, 364),
    legend3=legend_at(458, 773),
    legend4=legend_at(996, 774),
    annotations=annotations,
)

fig.write_html("out.html")
